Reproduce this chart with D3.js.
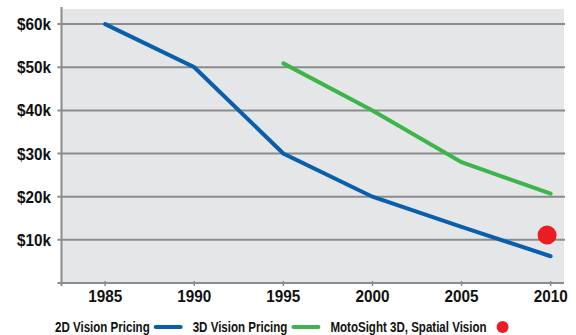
<!DOCTYPE html>
<html><head><meta charset="utf-8">
<script src="https://cdn.jsdelivr.net/npm/d3@7"></script>
<style>
body{margin:0;background:#fff;}
text{font-family:"Liberation Sans Narrow","Arial Narrow","Liberation Sans",Arial,sans-serif;font-weight:bold;fill:#111;}
</style></head><body>
<svg id="c" width="576" height="335"></svg>
<script>
const years = [1985, 1990, 1995, 2000, 2005, 2010];
const pricing2D = [60, 50, 30, 20, 13, 6.2];
const years3D = [1995, 2000, 2005, 2010];
const pricing3D = [50.9, 40, 28, 20.7];
const motoYear = [2009.8];
const motoPrice = [11.1];
const yTicks = [10, 20, 30, 40, 50, 60];
const seriesNames = ["2D Vision Pricing", "3D Vision Pricing", "MotoSight 3D, Spatial Vision"];
const colors = ["#0a5fad", "#3db54a", "#ec1c24"];

const svg = d3.select("#c");
const L = 61.5, R = 564, T = 9, B = 283;
const x = d3.scaleLinear().domain([1982.55, 2010.75]).range([L, R]);
const y = d3.scaleLinear().domain([0, 63.5]).range([B, T]);

svg.append("rect").attr("x", L).attr("y", T).attr("width", R - L).attr("height", B - T).attr("fill", "#e5e6e8");

svg.append("g").selectAll("line").data(yTicks).join("line")
  .attr("x1", L - 4).attr("x2", R + 1)
  .attr("y1", d => y(d)).attr("y2", d => y(d))
  .attr("stroke", "#8a8b8d").attr("stroke-width", 2);

svg.append("line").attr("x1", L).attr("x2", L).attr("y1", T - 2).attr("y2", B + 3)
  .attr("stroke", "#8a8b8d").attr("stroke-width", 2);
svg.append("line").attr("x1", L - 4).attr("x2", R).attr("y1", B).attr("y2", B)
  .attr("stroke", "#8a8b8d").attr("stroke-width", 2);

svg.append("g").selectAll("line").data(years).join("line")
  .attr("x1", d => x(d)).attr("x2", d => x(d)).attr("y1", B - 2).attr("y2", B + 3)
  .attr("stroke", "#8a8b8d").attr("stroke-width", 1.5);

const tickScale = 0.9;
svg.append("g").selectAll("text").data(years).join("text")
  .attr("transform", d => `translate(${x(d)},302) scale(${tickScale},1)`)
  .attr("text-anchor", "middle").attr("font-size", 17).text(d => d);

svg.append("g").selectAll("text").data(yTicks).join("text")
  .attr("transform", d => `translate(51,${y(d) + 6}) scale(${tickScale},1)`)
  .attr("text-anchor", "end").attr("font-size", 17).text(d => "$" + d + "k");

const line = d3.line().x(d => x(d[0])).y(d => y(d[1]));
svg.append("path").datum(years.map((yr, i) => [yr, pricing2D[i]]))
  .attr("d", line).attr("fill", "none").attr("stroke", colors[0]).attr("stroke-width", 4)
  .attr("stroke-linecap", "round");
svg.append("path").datum(years3D.map((yr, i) => [yr, pricing3D[i]]))
  .attr("d", line).attr("fill", "none").attr("stroke", colors[1]).attr("stroke-width", 4)
  .attr("stroke-linecap", "round");
svg.append("g").selectAll("circle").data(motoYear).join("circle")
  .attr("cx", d => x(d)).attr("cy", (d, i) => y(motoPrice[i])).attr("r", 9.5).attr("fill", colors[2]);

// legend
const lg = svg.append("g");
const fs = 15.5, ls = 0.745;
let cx = 55;
seriesNames.forEach((name, i) => {
  const t = lg.append("text").attr("transform", `translate(${cx},332) scale(${ls},1)`)
    .attr("font-size", fs).text(name);
  const w = t.node().getComputedTextLength() * ls;
  cx += w + 6;
  if (i < 2) {
    lg.append("line").attr("x1", cx).attr("x2", cx + 25).attr("y1", 327).attr("y2", 327)
      .attr("stroke", colors[i]).attr("stroke-width", 4).attr("stroke-linecap", "round");
    cx += 25 + 12;
  } else {
    lg.append("circle").attr("cx", cx + 10).attr("cy", 327).attr("r", 6).attr("fill", colors[i]);
  }
});
</script></body></html>
